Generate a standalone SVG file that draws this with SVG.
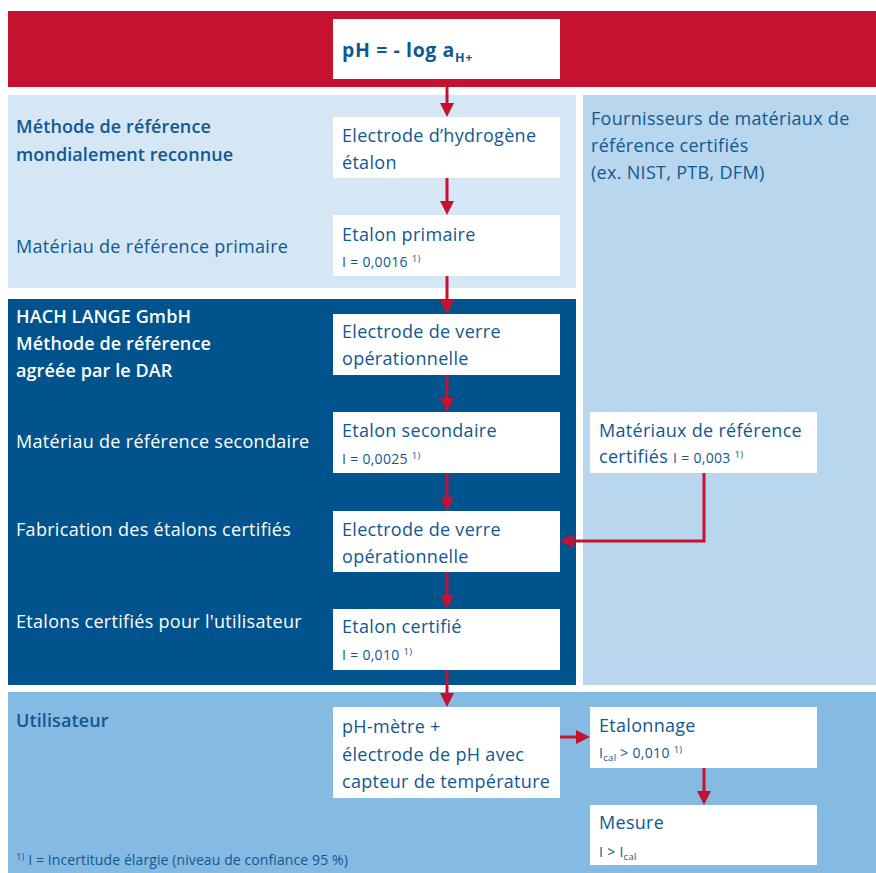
<svg xmlns="http://www.w3.org/2000/svg" width="876" height="873" viewBox="0 0 876 873">
<style>
text{font-family:"Open Sans","Liberation Sans",sans-serif;font-size:18px;fill:#105892;letter-spacing:0.3px}
.w{fill:#ffffff}
.h{font-weight:600;letter-spacing:0.1px}
.s{font-size:14px}
.f{font-size:14px;letter-spacing:0.1px}
.sup{font-size:9.5px}
.box{fill:#ffffff}
.arr{stroke:#c41230;stroke-width:3;fill:none;marker-end:url(#ah)}
</style>
<defs>
<marker id="ah" viewBox="0 0 14 14" refX="2" refY="7" markerWidth="14" markerHeight="14" markerUnits="userSpaceOnUse" orient="auto">
<path d="M0,0 L14,7 L0,14 z" fill="#c41230"/>
</marker>
</defs>
<rect width="876" height="873" fill="#ffffff"/>
<g id="bands">
<rect x="8" y="11" width="868" height="76" fill="#c41230"/>
<rect x="8" y="95" width="568" height="193" fill="#d5e6f5"/>
<rect x="583" y="95" width="293" height="590" fill="#b8d6ed"/>
<rect x="8" y="299" width="568" height="386" fill="#00538d"/>
<rect x="8" y="692" width="868" height="181" fill="#85bbe3"/>
</g>
<g id="labels">
<text class="h" x="16" y="133">Méthode de référence</text>
<text class="h" x="16" y="161">mondialement reconnue</text>
<text x="16" y="253">Matériau de référence primaire</text>
<text class="w h" x="16" y="323">HACH LANGE GmbH</text>
<text class="w h" x="16" y="350">Méthode de référence</text>
<text class="w h" x="16" y="377">agréée par le DAR</text>
<text class="w" x="16" y="448">Matériau de référence secondaire</text>
<text class="w" x="16" y="536">Fabrication des étalons certifiés</text>
<text class="w" x="16" y="628">Etalons certifiés pour l'utilisateur</text>
<text x="591" y="125">Fournisseurs de matériaux de</text>
<text x="591" y="152">référence certifiés</text>
<text x="591" y="179">(ex. NIST, PTB, DFM)</text>
<text class="h" x="16" y="727">Utilisateur</text>
<text class="f" x="16" y="865"><tspan class="sup" dy="-5">1)</tspan><tspan dy="5"> I = Incertitude élargie (niveau de confiance 95 %)</tspan></text>
</g>
<g id="connectors">
<line class="arr" x1="447" y1="79" x2="447" y2="105"/>
<line class="arr" x1="447" y1="178" x2="447" y2="203"/>
<line class="arr" x1="447" y1="276" x2="447" y2="302"/>
<line class="arr" x1="447" y1="375" x2="447" y2="400"/>
<line class="arr" x1="447" y1="473" x2="447" y2="499"/>
<line class="arr" x1="447" y1="572" x2="447" y2="597"/>
<line class="arr" x1="447" y1="670" x2="447" y2="695"/>
<polyline class="arr" points="704,473 704,541 572,541"/>
<line class="arr" x1="560" y1="737" x2="578" y2="737"/>
<line class="arr" x1="704" y1="768" x2="704" y2="793"/>
</g>
<g id="n-ph">
<rect class="box" x="333" y="19" width="227" height="60"/>
<text x="342" y="57" style="font-size:19.5px;font-weight:700;letter-spacing:0.6px">pH = - log a<tspan dy="5" style="font-size:12.5px">H+</tspan></text>
</g>
<g id="n-hydrogene">
<rect class="box" x="333" y="117" width="227" height="61"/>
<text x="342" y="142">Electrode d’hydrogène</text>
<text x="342" y="169">étalon</text>
</g>
<g id="n-primaire">
<rect class="box" x="333" y="215" width="227" height="61"/>
<text x="342" y="241">Etalon primaire</text>
<text class="s" x="342" y="267">I = 0,0016 <tspan class="sup" dy="-5">1)</tspan></text>
</g>
<g id="n-verre1">
<rect class="box" x="333" y="314" width="227" height="61"/>
<text x="342" y="338">Electrode de verre</text>
<text x="342" y="365">opérationnelle</text>
</g>
<g id="n-secondaire">
<rect class="box" x="333" y="412" width="227" height="61"/>
<text x="342" y="437">Etalon secondaire</text>
<text class="s" x="342" y="464">I = 0,0025 <tspan class="sup" dy="-5">1)</tspan></text>
</g>
<g id="n-verre2">
<rect class="box" x="333" y="511" width="227" height="61"/>
<text x="342" y="536">Electrode de verre</text>
<text x="342" y="563">opérationnelle</text>
</g>
<g id="n-certifie">
<rect class="box" x="333" y="609" width="227" height="61"/>
<text x="342" y="633">Etalon certifié</text>
<text class="s" x="342" y="660">I = 0,010 <tspan class="sup" dy="-5">1)</tspan></text>
</g>
<g id="n-materiaux">
<rect class="box" x="590" y="412" width="227" height="61"/>
<text x="599" y="437">Matériaux de référence</text>
<text x="599" y="463">certifiés <tspan class="s">I = 0,003 </tspan><tspan class="sup" dy="-5">1)</tspan></text>
</g>
<g id="n-phmetre">
<rect class="box" x="333" y="707" width="227" height="91"/>
<text x="342" y="733">pH-mètre +</text>
<text x="342" y="761">électrode de pH avec</text>
<text x="342" y="788">capteur de température</text>
</g>
<g id="n-etalonnage">
<rect class="box" x="590" y="707" width="227" height="61"/>
<text x="599" y="732">Etalonnage</text>
<text class="s" x="599" y="758">I<tspan class="sup" dy="3">cal</tspan><tspan dy="-3"> &gt; 0,010 </tspan><tspan class="sup" dy="-5">1)</tspan></text>
</g>
<g id="n-mesure">
<rect class="box" x="590" y="805" width="227" height="60"/>
<text x="599" y="829">Mesure</text>
<text class="s" x="599" y="857">I &gt; I<tspan class="sup" dy="3">cal</tspan></text>
</g>
</svg>
